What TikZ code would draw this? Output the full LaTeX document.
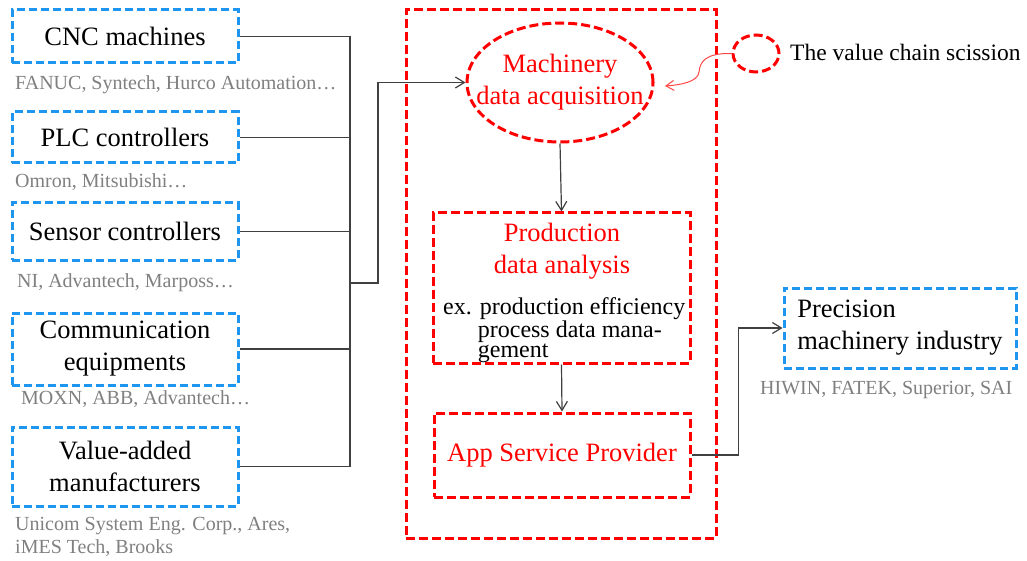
\documentclass[tikz,border=0pt]{standalone}
\usepackage{fontspec}
\setmainfont{Liberation Serif}
\usetikzlibrary{arrows.meta,shapes.geometric}
\definecolor{boxblue}{RGB}{30,150,240}
\definecolor{boxred}{RGB}{255,0,0}
\definecolor{scissred}{RGB}{255,70,70}
\definecolor{wiregray}{RGB}{64,64,64}
\definecolor{makergray}{RGB}{128,128,128}

\begin{document}
\begin{tikzpicture}[x=1pt,y=-1pt,
  supplier/.style={draw=boxblue,line width=3pt,dash pattern=on 8pt off 4pt,minimum width=226pt,inner sep=0pt,align=center,font=\fontsize{26.5}{32}\selectfont},
  stage/.style={draw=boxred,line width=3pt,dash pattern=on 9pt off 4pt,inner sep=0pt},
  stagetext/.style={inner sep=0pt,align=center,text=boxred,font=\fontsize{26.5}{32}\selectfont},
  makers/.style={anchor=west,inner sep=0pt,align=left,text=makergray,font=\fontsize{20}{23}\selectfont},
  wire/.style={draw=wiregray,line width=1.2pt},
  flow/.style={wire,-{Straight Barb[length=9pt,width=11pt]}}]
  \useasboundingbox (0,0) rectangle (1027,561);
  % the scission block
  \node[stage,minimum width=310pt,minimum height=528pt] (chain) at (561,274) {};
  \node[stage,ellipse,minimum width=186pt,minimum height=119pt] (acq) at (560,82.5) {};
  \node[stagetext] (acqtext) at (acq) {Machinery\\data acquisition};
  \node[stage,minimum width=257pt,minimum height=150pt] (prod) at (561.5,288) {};
  \node[stagetext] (prodtitle) at (562,251) {Production\\data analysis};
  \node[anchor=west,inner sep=0pt,align=left,font=\fontsize{24}{18}\selectfont] (prodex) at (443,330)
    {ex. production efficiency\\\hphantom{ex.}\ process data mana-\\\hphantom{ex.}\ gement};
  \node[stage,minimum width=256pt,minimum height=84pt,stagetext] (asp) at (562,455) {App Service Provider};
  \node[stage,ellipse,minimum width=46pt,minimum height=37pt] (cut) at (756,53.5) {};
  \node[anchor=west,inner sep=0pt,font=\fontsize{23.5}{28}\selectfont] (cutlabel) at (790,52) {The value chain scission};
  % suppliers
  \node[supplier,minimum height=53pt] (cnc) at (125,36.5) {CNC machines};
  \node[makers] (cncmakers) at (15,85) {FANUC, Syntech, Hurco Automation…};
  \node[supplier,minimum height=51pt] (plc) at (125,137.5) {PLC controllers};
  \node[makers] (plcmakers) at (15,182) {Omron, Mitsubishi…};
  \node[supplier,minimum height=57pt] (sensor) at (125,231.5) {Sensor controllers};
  \node[makers] (sensormakers) at (17,283) {NI, Advantech, Marposs…};
  \node[supplier,minimum height=72pt] (comm) at (125,349) {Communication\\equipments};
  \node[makers] (commmakers) at (21,399) {MOXN, ABB, Advantech…};
  \node[supplier,minimum height=79pt] (value) at (125,466.5) {Value-added\\manufacturers};
  \node[makers] (valuemakers) at (15,536.5) {Unicom System Eng. Corp., Ares,\\iMES Tech, Brooks};
  % customer
  \node[supplier,minimum width=232pt,minimum height=80pt,align=left] (prec) at (900,328) {Precision\\machinery industry};
  \node[makers] (precmakers) at (760,390) {HIWIN, FATEK, Superior, SAI};
  % connectors
  \coordinate (bus) at (350,0);
  \foreach \src in {cnc,plc,sensor,comm,value}
    \draw[wire] (\src.east) -- (\src.east -| bus);
  \draw[wire] (cnc.east -| bus) -- (value.east -| bus);
  \coordinate (tap) at (350,283);
  \draw[flow] (tap) -- ++(28,0) |- (acq.west);
  \draw[flow] (acq.south) -- (prod.north);
  \draw[flow] (prod.south) -- (asp.north);
  \draw[flow] (asp.east) -- ++(47,0) |- (prec.west);
  \coordinate (cuttip) at (665,86);
  \draw[draw=scissred,line width=1pt,-{Straight Barb[length=8pt,width=10pt]}] (cut.west)
    .. controls (705,53) and (700,62) .. (699,72) .. controls (698,82) and (680,85) .. (cuttip);
\end{tikzpicture}
\end{document}
